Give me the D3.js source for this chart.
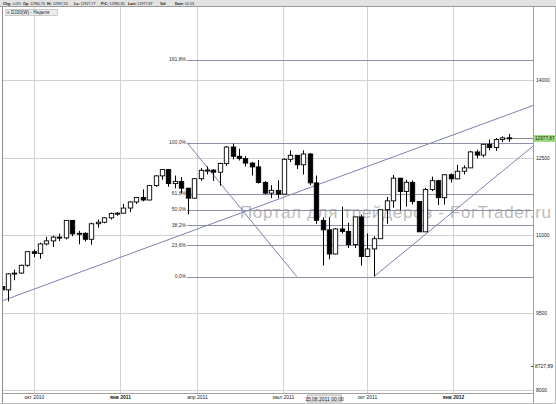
<!DOCTYPE html>
<html><head><meta charset="utf-8">
<script src="https://cdn.jsdelivr.net/npm/d3@7"></script>
<style>
html,body{margin:0;padding:0;background:#fff;}
svg{display:block;font-family:"Liberation Sans",Arial,sans-serif;}
</style></head><body>
<svg id="chart" width="556" height="404"></svg>
<script>
// Weekly bars, index 0 = week of 23.08.2010 ... index 79 = week of 27.02.2012 (values in chart axis units)
const open  = [10003,9938,10248,10263,10414,10677,10644,10827,10886,10959,10944,11283,11022,11033,10917,11218,11247,11332,11416,11422,
               11522,11639,11727,11677,11956,12144,12266,11995,12037,11906,11713,12090,12252,12256,12215,12385,12703,12523,12479,12392,
               12318,12017,11810,11864,11791,12465,12543,12359,12568,12009,11283,11100,10632,11117,11070,10814,11350,10583,10731,10928,
               11490,11661,12100,11842,12019,11648,11061,11880,12051,11722,12166,12087,12234,12299,12608,12546,12756,12692,12847,12881];
const high  = [10042,10265,10328,10426,10681,10717,10852,10966,10987,11029,11289,11289,11081,11050,11237,11299,11341,11434,11444,11600,
               11652,11730,11881,11964,12156,12276,12276,12151,12120,11912,12099,12296,12328,12276,12400,12722,12770,12670,12525,12411,
               12452,12046,11964,12057,12483,12639,12546,12639,12587,12151,11341,11341,11133,11548,11237,11351,11393,11029,10977,11496,
               11735,12161,12101,12068,12057,11652,11912,12130,12068,12172,12193,12359,12348,12629,12650,12764,12847,12878,12909,12956];
const low   = [9772,9716,10125,10250,10385,10572,10541,10800,10769,10883,10914,10977,10821,10873,10811,11143,11226,11299,11372,11421,
               11444,11600,11652,11673,11933,12068,11933,11902,11808,11398,11704,12047,12172,12047,11954,12338,12463,12442,12328,12151,
               11995,11787,11714,11714,11787,12411,12276,12172,11964,11216,10410,10530,10624,11029,10748,10748,10405,10572,10202,10925,
               11216,11528,11476,11548,11590,11060,11060,11850,11580,11590,12016,12079,12172,12297,12483,12504,12639,12629,12795,12805];
const close = [9938,10248,10263,10414,10677,10644,10827,10886,10959,10944,11283,11022,11033,10917,11218,11247,11332,11416,11422,11522,
               11639,11727,11677,11956,12144,12266,11995,12037,11906,11713,12090,12252,12256,12215,12385,12703,12523,12479,12392,12318,
               12017,11810,11864,11791,12465,12543,12359,12568,12009,11283,11100,10632,11117,11070,10814,11350,10583,10731,10928,11490,
               11661,12100,11842,12019,11648,11061,11880,12051,11722,12166,12087,12234,12299,12608,12546,12756,12692,12847,12881,12876];

const priceTicks = [14000,12500,11000,9500,8000];
const monthTicks = [5.06,18.46,30.45,43.85,56.93,70.33];
const monthLabels = ["окт 2010","янв 2011","апр 2011","июл 2011","окт 2011","янв 2012"];
const monthBold = [false,true,false,false,false,true];

const fibHigh = 12787, fibLow = 10193;
const fibRatios = [1.618,1,0.618,0.5,0.382,0.236,0];
const fibLabels = ["161,8%","100,0%","61,8%","50,0%","38,2%","23,6%","0,0%"];
const fibDiagonal = [[28.9,12787],[46.0,10193]];
const fibStartIndex = 28.9;

const trendLong = [[0,9721],[80,13379]];
const trendSupport = [[58,10193],[80,12436]];

const headerItems = [["Chg:","-0,02%"],["Op:","12960,75"],["Hi:","12997,53"],["Lo:","12927,77"],["PrC:","12985,30"],["Last:","12977,87"],["Vol:",""],["Date:","02.03"]];
const lastLabel = "12977,87";
const lowMarkLabel = "8727,89", lowMarkLevel = 8460;
const crosshairLabel = "15.08.2011 00:00", crosshairIndex = 50.3;
const symbolLabel = "DJ30(W) - Неделя";
const watermark = "Портал для трейдеров - ForTrader.ru";

const W = 556, H = 404;
const plot = {l:2, r:533, t:7, b:393};
const svg = d3.select("#chart");

const x = d3.scaleLinear().domain([0,79]).range([1.5, 1.5 + 6.42*79]);
const y = d3.scaleLinear().domain([8000,14000]).range([390,80]);

svg.append("rect").attr("width",W).attr("height",H).attr("fill","#fff");
svg.append("defs").append("clipPath").attr("id","clip").append("rect")
  .attr("x",plot.l).attr("y",plot.t).attr("width",plot.r-plot.l).attr("height",plot.b-plot.t);

// grid
const grid = svg.append("g").attr("stroke","#d2d2d2").attr("stroke-width",1).attr("shape-rendering","crispEdges");
grid.selectAll("line.v").data(monthTicks).join("line").attr("class","v")
  .attr("x1",d=>Math.round(x(d))+0.5).attr("x2",d=>Math.round(x(d))+0.5).attr("y1",plot.t).attr("y2",plot.b);
grid.selectAll("line.h").data(priceTicks).join("line").attr("class","h")
  .attr("x1",plot.l).attr("x2",plot.r).attr("y1",d=>Math.round(y(d))+0.5).attr("y2",d=>Math.round(y(d))+0.5);

// watermark
svg.append("text").attr("x",240).attr("y",218).attr("font-size",17).attr("fill","#a9a9a9").attr("fill-opacity",0.8)
  .attr("textLength",311).attr("lengthAdjust","spacing").text(watermark);

const plotG = svg.append("g").attr("clip-path","url(#clip)");

// fibonacci levels
const fibColor = "#8e8ea6";
const fibLevels = fibRatios.map(r => fibLow + (fibHigh - fibLow) * r);
plotG.selectAll("line.fib").data(fibLevels).join("line").attr("class","fib")
  .attr("x1",x(fibStartIndex)).attr("x2",plot.r).attr("y1",d=>Math.round(y(d))+0.5).attr("y2",d=>Math.round(y(d))+0.5)
  .attr("stroke",fibColor).attr("stroke-width",1).attr("shape-rendering","crispEdges");
svg.selectAll("text.fib").data(fibLevels).join("text").attr("class","fib")
  .attr("x",x(fibStartIndex)-1).attr("y",d=>y(d)+1.5).attr("text-anchor","end")
  .attr("font-size",5).attr("fill","#333").text((d,i)=>fibLabels[i]);

const line = d3.line().x(d=>x(d[0])).y(d=>y(d[1]));
const trendColor = "#7e82b2";
plotG.append("path").attr("d",line(fibDiagonal)).attr("stroke",trendColor).attr("fill","none").attr("stroke-width",1);

function extended(pts, i0, i1){
  const [a,b] = pts; const k = (b[1]-a[1])/(b[0]-a[0]);
  return [[i0, a[1] + k*(i0-a[0])],[i1, a[1] + k*(i1-a[0])]];
}
const iLeft = x.invert(plot.l), iRight = x.invert(plot.r);
plotG.append("path").attr("d",line(extended(trendLong,iLeft,iRight))).attr("stroke",trendColor).attr("fill","none").attr("stroke-width",1);
plotG.append("path").attr("d",line(extended(trendSupport,trendSupport[0][0],iRight))).attr("stroke",trendColor).attr("fill","none").attr("stroke-width",1);

// last price line
const lastY = Math.round(y(close[79]))+0.5;
plotG.append("line").attr("x1",x(78)).attr("x2",plot.r).attr("y1",lastY).attr("y2",lastY).attr("stroke","#8a8a8a");

// candles
const bw = 4.4;
const candles = plotG.selectAll("g.c").data(d3.range(open.length)).join("g").attr("class","c");
candles.append("line")
  .attr("x1",i=>Math.round(x(i))+0.5).attr("x2",i=>Math.round(x(i))+0.5)
  .attr("y1",i=>y(high[i])).attr("y2",i=>y(low[i])).attr("stroke","#000").attr("stroke-width",1);
candles.append("rect")
  .attr("x",i=>Math.round(x(i))+0.5-bw/2).attr("width",bw)
  .attr("y",i=>y(Math.max(open[i],close[i])))
  .attr("height",i=>Math.max(1, y(Math.min(open[i],close[i])) - y(Math.max(open[i],close[i]))))
  .attr("fill",i=>close[i]>=open[i]?"#fff":"#000").attr("stroke","#000").attr("stroke-width",0.9);

// frame
svg.append("line").attr("x1",2.5).attr("x2",2.5).attr("y1",0).attr("y2",H).attr("stroke","#8c8c8c");
svg.append("line").attr("x1",plot.r+0.5).attr("x2",plot.r+0.5).attr("y1",plot.t).attr("y2",H).attr("stroke","#a0a0a0");
svg.append("line").attr("x1",555.5).attr("x2",555.5).attr("y1",0).attr("y2",H).attr("stroke","#bdbdbd");
svg.append("line").attr("x1",0).attr("x2",W).attr("y1",403.5).attr("y2",403.5).attr("stroke","#bdbdbd");

// right axis
const yAxis = svg.append("g").attr("transform",`translate(${plot.r},0)`)
  .call(d3.axisRight(y).tickValues(priceTicks).tickSize(0).tickPadding(3).tickFormat(d=>d));
yAxis.select(".domain").remove();
yAxis.selectAll("text").attr("font-size",5).attr("fill","#222").attr("font-family","Liberation Sans, Arial, sans-serif");

svg.append("rect").attr("x",plot.r+1).attr("y",lastY-3.5).attr("width",21.5).attr("height",7).attr("fill","#9fdc7c");
svg.append("text").attr("x",plot.r+2).attr("y",lastY+1.7).attr("font-size",4.6).attr("fill","#222")
  .attr("textLength",19.5).attr("lengthAdjust","spacingAndGlyphs").text(lastLabel);
svg.append("line").attr("x1",plot.r-2).attr("x2",plot.r+1).attr("y1",Math.round(y(lowMarkLevel))+0.5).attr("y2",Math.round(y(lowMarkLevel))+0.5).attr("stroke","#555");
svg.append("text").attr("x",plot.r+2).attr("y",y(lowMarkLevel)+1.8).attr("font-size",5).attr("fill","#222").text(lowMarkLabel);

// bottom axis
svg.append("line").attr("x1",plot.l).attr("x2",plot.r).attr("y1",plot.b+0.5).attr("y2",plot.b+0.5).attr("stroke","#a0a0a0");
const xAxis = svg.append("g").attr("transform",`translate(0,${plot.b})`)
  .call(d3.axisBottom(x).tickValues(monthTicks).tickSize(0).tickPadding(2).tickFormat((d,i)=>monthLabels[i]));
xAxis.select(".domain").remove();
xAxis.selectAll("text").attr("font-size",5).attr("fill","#222").attr("font-family","Liberation Sans, Arial, sans-serif")
  .attr("font-weight",(d,i)=>monthBold[i]?"bold":"normal");
const cx = x(crosshairIndex);
svg.append("rect").attr("x",cx-17).attr("y",395).attr("width",34).attr("height",7).attr("fill","#eeeeee").attr("stroke","#8a8a8a").attr("stroke-width",0.6);
svg.append("text").attr("x",cx).attr("y",400.5).attr("text-anchor","middle").attr("font-size",5).attr("fill","#222").text(crosshairLabel);

// header
svg.append("rect").attr("x",0).attr("y",0).attr("width",W).attr("height",7).attr("fill","#e2e2e2");
svg.append("line").attr("x1",0).attr("x2",W).attr("y1",6.5).attr("y2",6.5).attr("stroke","#9a9a9a");
const headerX = [3,23,47,74,101,128,160,175];
const headerEnd = [21,45,72,99,126,157,172,210];
headerItems.forEach((d,i)=>{
  const g = svg.append("g");
  const lab = g.append("text").attr("x",headerX[i]).attr("y",5).attr("font-size",3.6).attr("font-weight","bold").attr("fill","#111").text(d[0]);
  const lw = lab.node().getComputedTextLength();
  if (d[1]) {
    const val = g.append("text").attr("x",headerX[i]+lw+1).attr("y",5).attr("font-size",3.6).attr("fill","#111").text(d[1]);
    const avail = headerEnd[i] - (headerX[i]+lw+1);
    if (val.node().getComputedTextLength() > avail) val.attr("textLength",avail).attr("lengthAdjust","spacingAndGlyphs");
  }
});

// symbol box
svg.append("rect").attr("x",5.5).attr("y",9.5).attr("width",52).attr("height",6).attr("fill","#ececec").attr("stroke","#b0b0b0").attr("stroke-width",0.6);
svg.append("text").attr("x",7).attr("y",14).attr("font-size",4.6).attr("fill","#222").text("≡ " + symbolLabel);
</script>
</body></html>
